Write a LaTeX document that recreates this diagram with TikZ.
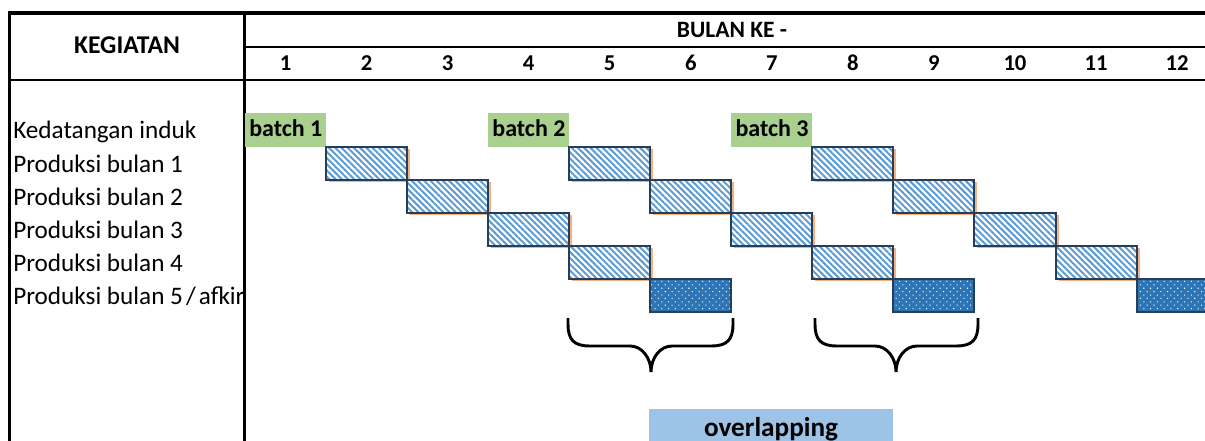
\documentclass[tikz,border=0pt]{standalone}
\usepackage{fontspec}
\setmainfont{Carlito}
\usetikzlibrary{patterns.meta}
\definecolor{batchgreen}{HTML}{A9D08E}
\definecolor{stripeblue}{HTML}{5B9BD5}
\definecolor{dotblue}{HTML}{2E75B6}
\definecolor{baredge}{RGB}{40,62,88}
\definecolor{shadeorange}{HTML}{F4B183}
\definecolor{overlapblue}{HTML}{9DC3E6}
\begin{document}
\begin{tikzpicture}[x=0.75pt,y=-0.75pt,
  lbl/.style={font=\fontsize{18.9}{22}\selectfont, inner sep=0pt},
  hdr/.style={font=\fontsize{17}{20}\selectfont\bfseries, inner sep=0pt},
  frameline/.style={line width=2.3pt},
  gridline/.style={line width=1.6pt},
  cell/.style={minimum width=60.8pt, minimum height=24.8pt, inner sep=0pt, outer sep=0pt},
  batchbox/.style={cell, fill=batchgreen, minimum height=25.5pt},
  stripebar/.style={cell, draw=baredge, line width=1.5pt,
    preaction={fill=shadeorange, transform canvas={shift={(3,2)}}},
    preaction={fill=white},
    pattern={Lines[angle=-45,distance=3.3pt,line width=1.5pt]}, pattern color=stripeblue},
  dotbar/.style={cell, draw=baredge, line width=1.5pt,
    preaction={fill=dotblue},
    pattern={Dots[angle=45,distance=3.6pt,radius=0.55pt]}, pattern color=white},
  bracepath/.style={line width=2.2pt, line cap=butt},
  overlapbox/.style={fill=overlapblue, minimum width=183pt, minimum height=40pt, inner sep=0pt},
]
\useasboundingbox (0,0) rectangle (1205,441);
\clip (0,0) rectangle (1205,441);

% activity labels
\node[lbl, anchor=base west] (l0) at (13,139) {Kedatangan induk};
\foreach \r in {1,...,4}
  \node[lbl, anchor=base west] (l\r) at (13,{139+33.1*\r}) {Produksi bulan \r};
\node[lbl, anchor=base west] (l5) at (13,304.5) {Produksi bulan 5\kern2.3pt/\kern2.3pt afkir};

% table frame and header rules
\draw[frameline] (8,13) -- (1205,13);
\draw[frameline] (9.5,12) -- (9.5,441);
\draw[gridline] (244.5,13) -- (244.5,441);
\draw[gridline] (244.5,47) -- (1205,47);
\draw[gridline] (8,80) -- (1205,80);

% header texts
\node[hdr, font=\fontsize{19.2}{22}\selectfont\bfseries, anchor=base] (kegiatan) at (127,54) {KEGIATAN};
\node[hdr, font=\fontsize{17.6}{20}\selectfont\bfseries, anchor=base] (bulan) at (732,37.5) {BULAN KE -};
\foreach \m in {1,...,12}
  \node[hdr, anchor=base] (m\m) at ({245+81.05*(\m-0.5)},71) {\m};

% arrivals of parent stock
\foreach \m/\k in {1/1,4/2,7/3}{
  \node[batchbox] (b\k) at ({245+81.05*(\m-0.5)},130) {};
  \node[hdr, font=\fontsize{18}{20}\selectfont\bfseries, anchor=base west] (bt\k) at ({249+81.05*(\m-1)},137) {batch \k};
}

% production months (hatched)
\foreach \m/\r/\k in {2/1/a,5/1/b,8/1/c, 3/2/a,6/2/b,9/2/c, 4/3/a,7/3/b,10/3/c, 5/4/a,8/4/b,11/4/c}
  \node[stripebar] (p\r\k) at ({245+81.05*(\m-0.5)},{146.7+33.1*(\r-0.5)}) {};

% fifth month / culling (dotted)
\foreach \m/\k in {6/a,9/b,12/c}
  \node[dotbar] (p5\k) at ({245+81.05*(\m-0.5)},{146.7+33.1*4.5}) {};

% braces marking the overlapping months
\foreach \a/\b/\t/\k in {568/733/651/1, 815/978/896/2}{
  \coordinate (ba\k) at (\a,318);
  \coordinate (bb\k) at (\b,318);
  \coordinate (tip\k) at (\t,372);
  \draw[bracepath] (ba\k) -- ++(0,6) .. controls +(0,16) and +(-16,0) .. ++(22,22)
    -- (\t-21,346) .. controls +(12,0) and +(0,-14) .. (tip\k)
    .. controls +(0,-14) and +(-12,0) .. (\t+21,346)
    -- (\b-22,346) .. controls +(16,0) and +(0,16) .. (\b,324) -- (bb\k);
}

% overlap caption
\node[overlapbox] (ovbox) at (771,436) {};
\node[hdr, font=\fontsize{20.4}{22}\selectfont\bfseries, anchor=base] (ovtext) at (771,436.5) {overlapping};
\end{tikzpicture}
\end{document}
